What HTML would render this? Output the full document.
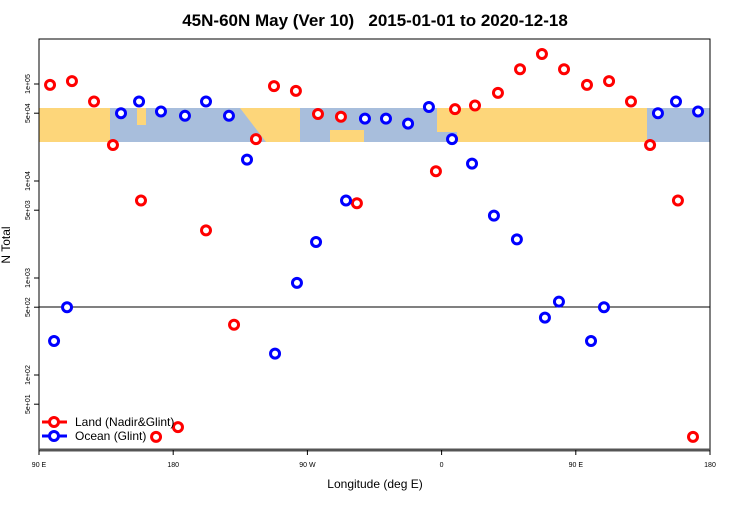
<!DOCTYPE html>
<html><head><meta charset="utf-8"><style>
body{margin:0;background:#fff;width:750px;height:500px;overflow:hidden}
svg text{font-family:"Liberation Sans",sans-serif}
</style></head><body>
<svg id="chart" width="750" height="500" xmlns="http://www.w3.org/2000/svg">
<text x="375" y="26" text-anchor="middle" font-size="17" font-weight="bold" style="white-space:pre">45N-60N May (Ver 10)   2015-01-01 to 2020-12-18</text>
<g>
<rect x="39" y="108" width="671" height="34" fill="#fdd67a"/>
<polygon points="110,108 240,108 266,142 110,142" fill="#a8bedc"/>
<rect x="137" y="108" width="9" height="17" fill="#fdd67a"/>
<polygon points="300,108 437,108 437,142 364,142 364,130 330,130 330,142 300,142" fill="#a8bedc"/>
<rect x="437" y="132" width="20" height="10" fill="#a8bedc"/>
<rect x="647" y="108" width="63" height="34" fill="#a8bedc"/>
</g>
<rect x="39" y="39" width="671" height="411" fill="none" stroke="#000" stroke-width="1"/>
<line x1="39" y1="450" x2="710" y2="450" stroke="#555" stroke-width="3"/>
<line x1="39" y1="307" x2="710" y2="307" stroke="#000" stroke-width="1"/>
<g id="yticks"></g><g id="xticks"></g>
<text x="375" y="488" text-anchor="middle" font-size="12">Longitude (deg E)</text>
<text transform="translate(10,245) rotate(-90)" text-anchor="middle" font-size="12">N Total</text>
<g id="marks"></g>
<g>
<g>
<line x1="42" y1="422" x2="67" y2="422" stroke="#f00" stroke-width="3"/>
<circle cx="54" cy="422" r="4.5" fill="#fff" stroke="#f00" stroke-width="3"/>
<text x="75" y="426" font-size="12">Land (Nadir&amp;Glint)</text></g>
<g>
<line x1="42" y1="436" x2="67" y2="436" stroke="#00f" stroke-width="3"/>
<circle cx="54" cy="436" r="4.5" fill="#fff" stroke="#00f" stroke-width="3"/>
<text x="75" y="440" font-size="12">Ocean (Glint)</text></g>
</g>
</svg>
<script>
const landLon=[97.4,112.1,126.9,139.6,158.4,168.5,183.2,202.0,220.8,235.5,247.6,262.3,277.1,292.5,303.2,356.2,369.0,382.4,397.8,412.6,427.3,442.1,457.5,472.3,487.0,499.8,518.5,528.6];
const landN=[98000,107000,66000,23500,6300,23,29,3100,330,27000,95000,85000,49000,46000,5900,12600,55000,60000,81000,142000,204000,142000,98000,107000,66000,23500,6300,23];
const oceanLon=[100.1,108.8,145.0,157.1,171.8,187.9,202.0,217.4,229.5,248.3,263.0,275.8,295.9,308.6,322.7,337.5,351.5,367.0,380.4,395.1,410.5,429.3,438.7,460.2,468.9,505.1,517.2,532.0];
const oceanN=[224,500,50000,66000,52000,47000,66000,47000,16600,166,890,2350,6300,44000,44000,39000,58000,27000,15100,4400,2500,390,570,224,500,50000,66000,52000];
const xTickLon=[90,180,270,360,450,540];
const xTickLabels=["90 E","180","90 W","0","90 E","180"];
const yTickVals=[100000,50000,10000,5000,1000,500,100,50];
const yTickLabels=["1e+05","5e+04","1e+04","5e+03","1e+03","5e+02","1e+02","5e+01"];
const NS="http://www.w3.org/2000/svg";
function xs(l){return 39+(l-90)*671/450;}
function ys(n){return 84+(5-Math.log10(n))*97;}
const yt=document.getElementById('yticks');
yTickVals.forEach((v,i)=>{
 const y=ys(v);
 const l=document.createElementNS(NS,'line');
 l.setAttribute('x1',34);l.setAttribute('x2',39);l.setAttribute('y1',y);l.setAttribute('y2',y);l.setAttribute('stroke','#000');
 
 
 yt.appendChild(l);
 const t=document.createElementNS(NS,'text');
 t.setAttribute('transform','translate(30,'+y+') rotate(-90)');t.setAttribute('text-anchor','middle');t.setAttribute('font-size','7');
 t.textContent=yTickLabels[i];
 
 
 yt.appendChild(t);
});
const xt=document.getElementById('xticks');
xTickLon.forEach((v,i)=>{
 const x=xs(v);
 const l=document.createElementNS(NS,'line');
 l.setAttribute('x1',x);l.setAttribute('x2',x);l.setAttribute('y1',450);l.setAttribute('y2',455);l.setAttribute('stroke','#000');
 
 
 xt.appendChild(l);
 const t=document.createElementNS(NS,'text');
 t.setAttribute('x',x);t.setAttribute('y',467);t.setAttribute('text-anchor','middle');t.setAttribute('font-size','7');
 t.textContent=xTickLabels[i];
 
 
 xt.appendChild(t);
});
const mk=document.getElementById('marks');
function draw(lon,n,color,name){
 lon.forEach((l,i)=>{
  const c=document.createElementNS(NS,'circle');
  c.setAttribute('cx',xs(l));c.setAttribute('cy',ys(n[i]));c.setAttribute('r',4.5);
  c.setAttribute('fill','#fff');c.setAttribute('stroke',color);c.setAttribute('stroke-width',3);
  
  
  mk.appendChild(c);
 });
}
draw(landLon,landN,'#f00','land-point');
draw(oceanLon,oceanN,'#00f','ocean-point');
</script>
</body></html>
